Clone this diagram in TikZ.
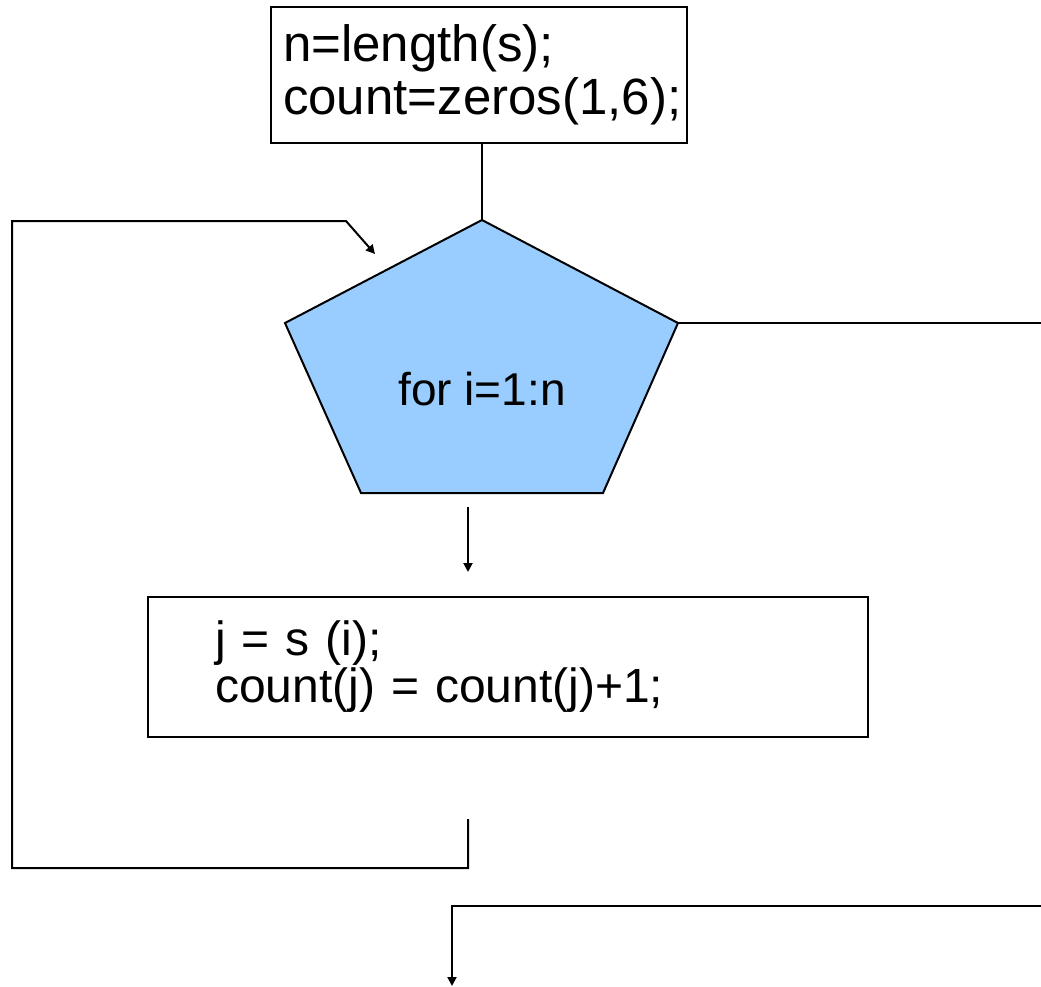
\documentclass[tikz,border=0pt]{standalone}
\usepackage{fontspec}
\setmainfont{Liberation Sans}
\usetikzlibrary{arrows.meta,positioning}
\definecolor{loopblue}{HTML}{99CCFF}

\begin{document}
\begin{tikzpicture}[x=0.5pt,y=-0.5pt,line width=1pt,
  codebox/.style={draw,line width=1pt,align=left,inner ysep=0pt},
  arr/.style={-{Triangle[length=4.5pt,width=4.5pt]}}]
\useasboundingbox (0,0) rectangle (1041,987);

% Initialisation
\node[codebox,minimum width=208pt,minimum height=68pt,text width=196pt,inner xsep=6pt,
  font=\fontsize{25.5}{26.5}\selectfont] (init) at (479,75) {n=length(s);\\count=zeros(1,6);};

% Loop header
\coordinate (ptop) at (482,220);
\coordinate (pright) at (678,323);
\coordinate (pbr) at (603,493);
\coordinate (pbl) at (361,493);
\coordinate (pleft) at (285,323);
\filldraw[fill=loopblue,line join=miter] (ptop) -- (pright) -- (pbr) -- (pbl) -- (pleft) -- cycle;
\node[font=\fontsize{23}{25}\selectfont] (header) at (482,389) {for i=1:n};
\draw (init.south -| ptop) -- (ptop);

% Exit to the right
\coordinate (exitR) at (1041,323);
\draw (pright) -- (exitR);

% Loop body
\node[codebox,minimum width=360pt,minimum height=70pt,text width=293pt,inner xsep=33.5pt,
  font=\fontsize{24}{23.5}\selectfont] (body) at (508,667) {j = s (i);\\count(j) = count(j)+1;};
\coordinate (bodyin) at (468,507);
\coordinate (bodytip) at (468,572);
\draw[arr] (bodyin) -- (bodytip);

% Back edge
\coordinate (backstart) at (468,819);
\coordinate (backtip) at (375,254);
\draw[arr] (backstart) -- (468,868) -- (12,868) -- (12,221) -- (346,221) -- (backtip);

% After the loop
\coordinate (after) at (1041,906);
\coordinate (aftertip) at (452,986);
\draw[arr] (after) -| (aftertip);
\end{tikzpicture}
\end{document}
